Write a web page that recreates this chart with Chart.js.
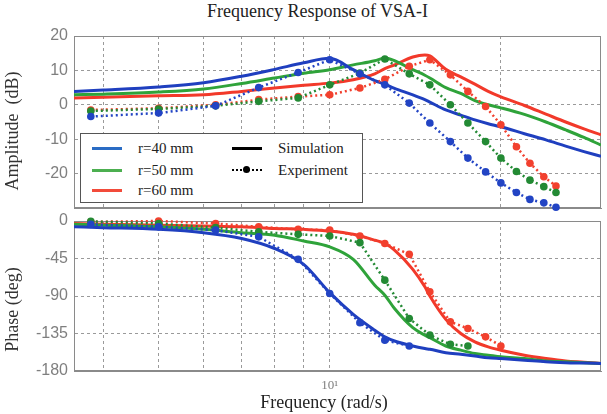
<!DOCTYPE html>
<html>
<head>
<meta charset="utf-8">
<script src="https://cdn.jsdelivr.net/npm/chart.js@4.4.0/dist/chart.umd.min.js"></script>
<style>
  html, body { margin: 0; padding: 0; background: #fff; }
  #wrap  { position: relative; width: 607px; height: 414px; overflow: hidden; }
  #title { position: absolute; left: 0; width: 635px; top: 1px; text-align: center;
           font: 18px 'Liberation Serif', serif; color: #222; }
  canvas { position: absolute; left: 0; }
  #cAmp  { top: 0; }
  #cPh   { top: 200px; }
  #legend { position: absolute; left: 80px; top: 133px; width: 283px; height: 70px; box-sizing: border-box;
            border: 1.5px solid #555; background: #fff; font: 15px 'Liberation Serif', serif; color: #222; }
  #legend .ln  { position: absolute; width: 30px; height: 0; border-top: 3px solid #000; }
  #legend .dot { position: absolute; left: 11px; top: -5px; width: 7px; height: 7px; border-radius: 50%; background: #000; }
  #legend .lb  { position: absolute; line-height: 16px; white-space: nowrap; }
</style>
</head>
<body>
<div id="wrap">
  <div id="title">Frequency Response of VSA-I</div>
  <canvas id="cAmp" width="607" height="214"></canvas>
  <canvas id="cPh" width="607" height="214"></canvas>
  <div id="legend"></div>
</div>
<script>
// ── Données (fréquence en rad/s)
const SERIES_NAMES  = ['r=40 mm', 'r=50 mm', 'r=60 mm'];
const SERIES_COLORS = ['#1f3fbf', '#2fa33a', '#f2392a'];
const LEGEND_COLORS = ['#2a6cc4', '#4caf50', '#f24b3a'];
const EXP_COLORS    = ['#2244c4', '#238a34', '#f2402e'];

const AMP_TICKS   = [20, 10, 0, -10, -20];
const PHASE_TICKS = [0, -45, -90, -135, -180];
const FREQ_GRID   = [4, 5, 6, 7, 8, 9, 10, 20];

// simulation
const simFreq  = [3.55, 4, 5, 6, 7, 8, 9, 10, 11, 12, 12.5, 13, 14, 14.7, 15, 16, 17, 18, 19, 20, 22, 24, 26, 28, 30];
const ampSim40 = [3.9, 4.3, 5.2, 6.4, 8.3, 10.3, 12.2, 13.5, 10.2, 7.0, 6.0, 4.8, 2.9, 1.5, 0.8, -1.5, -3.0, -4.4, -5.5, -6.4, -8.4, -10.2, -12.0, -13.6, -15.0];
const ampSim50 = [2.9, 3.1, 3.7, 4.6, 6.2, 7.8, 9.2, 10.2, 11.6, 12.8, 13.6, 12.8, 10.2, 8.6, 7.8, 5.0, 3.3, 1.2, 0, -0.9, -2.8, -5.0, -7.3, -9.5, -11.7];
const ampSim60 = [2.0, 2.2, 2.6, 2.9, 3.9, 4.9, 5.7, 6.3, 7.3, 9.0, 10.5, 11.6, 13.9, 14.5, 14.2, 10.3, 8.1, 6.0, 3.9, 2.3, -0.2, -2.7, -5.0, -7.0, -8.7];
const phSim40  = [-7, -8, -10, -14, -21, -33, -52, -86, -112, -131, -139, -144, -150, -153, -154, -158, -160, -162, -164, -165, -167, -169, -170, -170.5, -171];
const phSim50  = [-4, -5, -7, -10, -14, -17, -24, -31, -46, -77, -89, -105, -128, -137, -140, -150, -155, -159, -161, -163, -165, -168, -169, -170, -171];
const phSim60  = [-3, -4, -5, -6, -7, -9, -10, -12, -16, -23, -27, -35, -58, -79, -90, -118, -135, -145, -151, -155, -161, -165, -168, -169.5, -171];

// expérience (null = pas de mesure)
const expFreq  = [3.8, 5, 6.3, 7.5, 8.8, 10, 11.3, 12.5, 13.8, 15, 16.3, 17.5, 18.8, 20, 21.3, 22.5, 23.8, 25];
const ampExp40 = [-3.4, -2.4, -0.3, 5.0, 9.4, 13.1, 9.0, 5.8, 0.5, -5.3, -10.7, -15.5, -19.5, -22.7, -25.5, -27.5, -28.5, -29.8];
const ampExp50 = [-1.8, -1.2, -0.3, 1.0, 2.0, 5.8, 9.2, 13.3, 9.0, 5.8, 0, -5.3, -10.7, -15.5, -19.4, -21.9, -23.8, -25.5];
const ampExp60 = [-1.5, -1.0, 0, 1.5, 2.4, 2.9, 4.9, 7.4, 11.2, 13.1, 8.7, 3.9, -0.5, -5.8, -12.2, -17.0, -20.9, -23.6];
const phExp40  = [-4, -7, -11, -19, -46, -87, -122, -143, -150, null, null, null, null, null, null, null, null, null];
const phExp50  = [-0.5, -3, -8, -13, -16, -18, -26, -71, -117, -137, -148, -150, null, null, null, null, null, null];
const phExp60  = [-1, 0, -3, -7, -10, -11, -18, -27, -40, -85, -121, -129, -139, -150, null, null, null, null];

// ── Styles communs
const GRID  = '#9a9a9a';
const FRAME = '#8a8a8a';
const TICK  = '#7f7f7f';
const SERIF = "'Liberation Serif', 'Times New Roman', serif";
const SANS  = "'Liberation Sans', Arial, sans-serif";
const NB    = '\u00a0';   // espaces de fin : décalent le titre d'axe comme sur l'original

function pts(xs, ys) {
  return xs.map((x, i) => ({ x, y: ys[i] })).filter(p => p.y !== null);
}

function simSet(i, ys) {
  return { data: pts(simFreq, ys), borderColor: SERIES_COLORS[i], borderWidth: 3,
           pointRadius: 0, cubicInterpolationMode: 'monotone', order: 10 + i };
}

function expSet(i, ys) {
  return { data: pts(expFreq, ys), borderColor: EXP_COLORS[i], borderWidth: 2.5, borderDash: [2, 3],
           pointRadius: 3.8, pointBorderWidth: 0, pointBackgroundColor: EXP_COLORS[i],
           tension: 0, clip: false, order: i };
}

// ── Cadre complet autour de la zone de tracé
const framePlugin = {
  id: 'frame',
  beforeDatasetsDraw(chart) {
    const { ctx, chartArea: a } = chart;
    ctx.save();
    ctx.strokeStyle = FRAME;
    ctx.lineWidth = 1;
    ctx.strokeRect(a.left + 0.5, a.top + 0.5, a.width - 1, a.height - 1);
    ctx.restore();
  }
};

function xScale(height, showLabels) {
  return {
    type: 'logarithmic', min: 3.55, max: 30,
    afterBuildTicks: s => { s.ticks = FREQ_GRID.map(v => ({ value: v })); },
    afterFit: s => { s.height = height; s.paddingLeft = 0; s.paddingRight = 0; },
    grid:   { color: GRID, drawTicks: false },
    border: { display: true, color: FRAME, dash: [3, 3] },
    ticks:  { display: showLabels, color: TICK, font: { family: SERIF, size: 13 }, padding: 7,
              autoSkip: false, maxRotation: 0, callback: v => (v === 10 ? '10¹' : '') },
    title:  { display: showLabels, text: 'Frequency (rad/s)' + NB.repeat(6), color: '#222',
              font: { family: SERIF, size: 18 }, padding: 0 }
  };
}

function yScale(min, max, ticks, title) {
  return {
    min, max,
    afterBuildTicks: s => { s.ticks = ticks.map(v => ({ value: v })); },
    afterFit: s => { s.width = 74; s.paddingTop = 0; s.paddingBottom = 0; },
    grid:   { color: GRID, drawTicks: false },
    border: { display: true, color: FRAME, dash: [3, 3] },
    ticks:  { color: TICK, font: { family: SANS, size: 16 }, padding: 6 },
    title:  { display: true, text: title, color: '#333', font: { family: SERIF, size: 18 }, padding: 2 }
  };
}

function makeChart(id, datasets, x, y, padTop) {
  return new Chart(document.getElementById(id), {
    type: 'line',
    data: { datasets },
    options: {
      responsive: false, animation: false, events: [],
      layout: { padding: { top: padTop, right: 6, bottom: 0, left: 0 } },
      plugins: { legend: { display: false }, tooltip: { enabled: false }, title: { display: false } },
      scales: { x, y }
    },
    plugins: [framePlugin]
  });
}

makeChart('cAmp', [
  expSet(1, ampExp50), expSet(2, ampExp60), expSet(0, ampExp40),
  simSet(0, ampSim40), simSet(1, ampSim50), simSet(2, ampSim60)
], xScale(6, false), yScale(-30, 20, AMP_TICKS, 'Amplitude  (dB)' + NB.repeat(4)), 36);

makeChart('cPh', [
  expSet(1, phExp50), expSet(2, phExp60), expSet(0, phExp40),
  simSet(0, phSim40), simSet(1, phSim50), simSet(2, phSim60)
], xScale(43, true), yScale(-180, 0, PHASE_TICKS, 'Phase (deg)' + NB.repeat(6)), 21);

// ── Légende (deux colonnes dans un cadre)
const legend = document.getElementById('legend');
const rowsY = [14, 36, 56];
SERIES_NAMES.forEach((name, i) => {
  legend.insertAdjacentHTML('beforeend',
    `<span class="ln" style="left:11px;top:${rowsY[i] - 1}px;border-top-color:${LEGEND_COLORS[i]}"></span>` +
    `<span class="lb" style="left:57px;top:${rowsY[i] - 8}px">${name}</span>`);
});
legend.insertAdjacentHTML('beforeend',
  `<span class="ln" style="left:151px;top:${rowsY[0] - 1}px"></span>` +
  `<span class="lb" style="left:197px;top:${rowsY[0] - 8}px">Simulation</span>` +
  `<span class="ln" style="left:151px;top:${rowsY[1] - 1}px;border-top:2.5px dotted #000"><span class="dot"></span></span>` +
  `<span class="lb" style="left:197px;top:${rowsY[1] - 8}px">Experiment</span>`);
</script>
</body>
</html>
